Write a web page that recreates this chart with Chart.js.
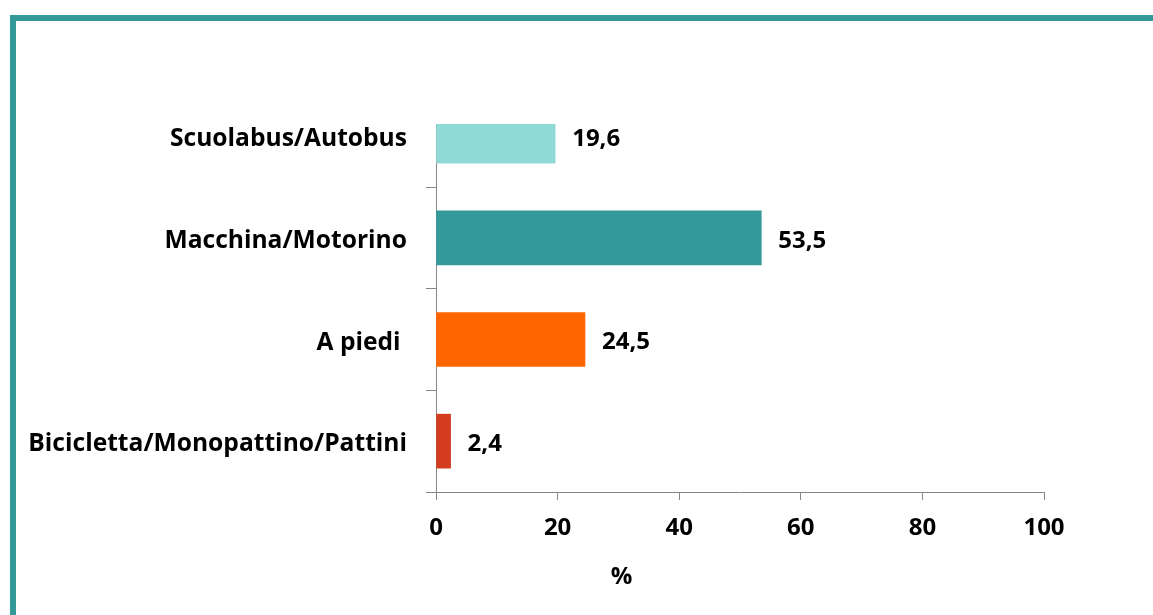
<!DOCTYPE html>
<html>
<head>
<meta charset="utf-8">
<script src="https://cdn.jsdelivr.net/npm/chart.js@4.4.1/dist/chart.umd.min.js"></script>
<style>
  html, body { margin: 0; padding: 0; background: #fff; }
  #wrap { position: relative; width: 1153px; height: 615px; overflow: hidden; }
  #frame {
    position: absolute; left: 10px; top: 15px; width: 1300px; height: 800px;
    border-top: 6px solid #339999; border-left: 6px solid #339999;
  }
  #chart { position: absolute; left: 0; top: 0; }
</style>
</head>
<body>
<div id="wrap">
  <div id="frame"></div>
  <canvas id="chart" width="1153" height="615"></canvas>
</div>
<script>
// dati (percentuali)
const categories = ["Scuolabus/Autobus", "Macchina/Motorino", "A piedi ", "Bicicletta/Monopattino/Pattini"];
const values = [19.6, 53.5, 24.5, 2.4];
const barColors = ["#8fdad6", "#339999", "#ff6600", "#d33c1e"];
const xTicks = [0, 20, 40, 60, 80, 100];
const axisTitle = "%";

const FONT = "'Open Sans'";
const FSIZE = 24;
const AXIS = "#868686";
const n = categories.length;

// la prima categoria sta in alto: posizione y = n-1-i
const points = categories.map((c, i) => ({ x: values[i], y: n - 1 - i }));

// tick del asse y: confini (tacche) + centri (etichette)
const yTicks = [];
for (let i = 0; i < n; i++) { yTicks.push(i - 0.5); yTicks.push(i); }

function fmtIt(v) {
  return v.toFixed(1).replace(".", ",");
}

const valueLabels = {
  id: "valueLabels",
  afterDatasetsDraw(chart) {
    const ctx = chart.ctx;
    const meta = chart.getDatasetMeta(0);
    ctx.save();
    ctx.font = "bold " + FSIZE + "px " + FONT;
    ctx.fillStyle = "#000";
    ctx.textAlign = "left";
    ctx.textBaseline = "middle";
    meta.data.forEach((bar, i) => {
      ctx.fillText(fmtIt(values[i]), bar.x + 17, bar.y + 3);
    });
    ctx.restore();
  }
};

const xTitle = {
  id: "xTitle",
  afterDraw(chart) {
    const ctx = chart.ctx;
    const xs = chart.scales.x;
    ctx.save();
    ctx.font = "bold " + FSIZE + "px " + FONT;
    ctx.fillStyle = "#000";
    ctx.textAlign = "center";
    ctx.textBaseline = "middle";
    ctx.fillText(axisTitle, xs.getPixelForValue(30.5), 577);
    ctx.restore();
  }
};

new Chart(document.getElementById("chart"), {
  type: "bar",
  data: {
    datasets: [{
      data: points,
      backgroundColor: barColors,
      borderWidth: 0,
      barThickness: 54,
      clip: 0
    }]
  },
  options: {
    indexAxis: "y",
    responsive: false,
    animation: false,
    layout: { padding: { top: 124, right: 109, left: 0, bottom: 0 } },
    plugins: { legend: { display: false }, tooltip: { enabled: false } },
    scales: {
      x: {
        type: "linear", min: 0, max: 100,
        afterBuildTicks: s => { s.ticks = xTicks.map(v => ({ value: v })); },
        afterFit: s => { s.height = 123; },
        border: { color: AXIS, width: 1 },
        grid: { drawOnChartArea: false, tickLength: 8, tickColor: AXIS },
        ticks: { padding: 14, color: "#000", font: { family: FONT, size: FSIZE, weight: "bold" }, callback: v => v }
      },
      y: {
        type: "linear", min: -0.5, max: 3.12, offset: false,
        afterBuildTicks: s => { s.ticks = yTicks.map(v => ({ value: v })); },
        afterFit: s => { s.width = 436; },
        border: { color: AXIS, width: 1 },
        grid: {
          offset: false, drawOnChartArea: false, tickLength: 10,
          tickColor: c => (c.tick && Number.isInteger(c.tick.value)) ? "rgba(0,0,0,0)" : AXIS
        },
        ticks: {
          padding: 19, color: "#000", autoSkip: false, labelOffset: 3,
          font: { family: FONT, size: 24.6, weight: "bold" },
          callback: v => Number.isInteger(v) ? categories[n - 1 - v] : ""
        }
      }
    }
  },
  plugins: [valueLabels, xTitle]
});
</script>
</body>
</html>
